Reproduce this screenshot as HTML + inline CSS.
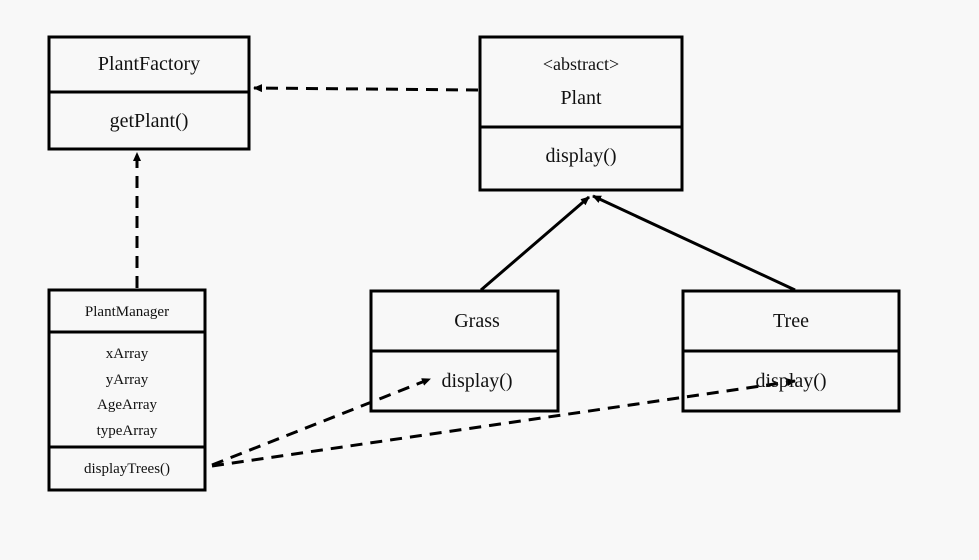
<!DOCTYPE html>
<html><head><meta charset="utf-8"><style>
html,body{margin:0;padding:0;background:#f8f8f8;}
svg{display:block}
text{font-family:"Liberation Serif",serif;fill:#111;text-anchor:middle}
</style></head><body>
<svg width="979" height="560" viewBox="0 0 979 560" xmlns="http://www.w3.org/2000/svg">
<defs>
<marker id="a" markerWidth="10" markerHeight="10" refX="8" refY="5" orient="auto" markerUnits="userSpaceOnUse">
<path d="M0,1 L9,5 L0,9 z" fill="#000"/></marker>
</defs>
<rect width="979" height="560" fill="#f8f8f8"/>
<g fill="none" stroke="#000" stroke-width="3">
<rect x="49" y="37" width="200" height="112"/><line x1="49" y1="92" x2="249" y2="92"/>
<rect x="480" y="37" width="202" height="153"/><line x1="480" y1="127" x2="682" y2="127"/>
<rect x="49" y="290" width="156" height="200"/><line x1="49" y1="332" x2="205" y2="332"/><line x1="49" y1="447" x2="205" y2="447"/>
<rect x="371" y="291" width="187" height="120"/><line x1="371" y1="351" x2="558" y2="351"/>
<rect x="683" y="291" width="216" height="120"/><line x1="683" y1="351" x2="899" y2="351"/>
</g>
<g stroke="#000" stroke-width="3" fill="none">
<line x1="478" y1="90" x2="254" y2="88" stroke-dasharray="12,8" marker-end="url(#a)"/>
<line x1="137" y1="288" x2="137" y2="153" stroke-dasharray="12,8" marker-end="url(#a)"/>
<line x1="481" y1="290" x2="589" y2="197" marker-end="url(#a)"/>
<line x1="795" y1="290" x2="593" y2="196" marker-end="url(#a)"/>
<line x1="212" y1="465" x2="430" y2="379" stroke-dasharray="12,8" marker-end="url(#a)"/>
<line x1="212" y1="466" x2="795" y2="381" stroke-dasharray="12,8" marker-end="url(#a)"/>
</g>
<text x="149" y="70" font-size="20">PlantFactory</text>
<text x="149" y="127" font-size="20">getPlant()</text>
<text x="581" y="70" font-size="18">&lt;abstract&gt;</text>
<text x="581" y="104" font-size="20">Plant</text>
<text x="581" y="162" font-size="20">display()</text>
<text x="127" y="316" font-size="15">PlantManager</text>
<text x="127" y="358" font-size="15">xArray</text>
<text x="127" y="384" font-size="15">yArray</text>
<text x="127" y="409" font-size="15">AgeArray</text>
<text x="127" y="435" font-size="15">typeArray</text>
<text x="127" y="473" font-size="15">displayTrees()</text>
<text x="477" y="327" font-size="20">Grass</text>
<text x="477" y="387" font-size="20">display()</text>
<text x="791" y="327" font-size="20">Tree</text>
<text x="791" y="387" font-size="20">display()</text>
</svg>
</body></html>
